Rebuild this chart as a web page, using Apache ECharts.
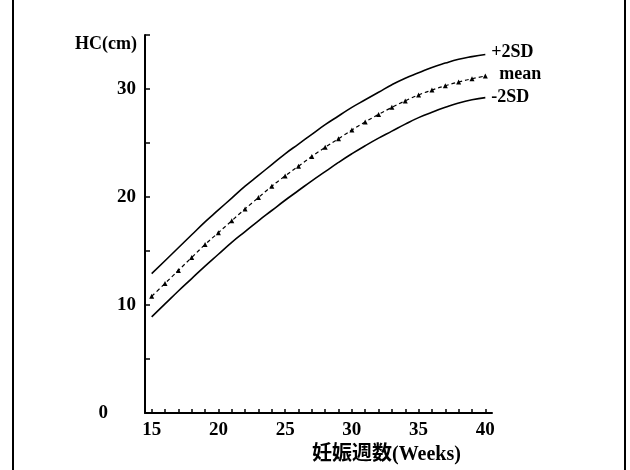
<!DOCTYPE html>
<html>
<head>
<meta charset="utf-8">
<script src="https://cdn.jsdelivr.net/npm/echarts@6/dist/echarts.min.js"></script>
<style>
  html, body { margin: 0; padding: 0; background: #fff; }
  #chart { width: 630px; height: 470px; }
</style>
</head>
<body>
<div id="chart"></div>
<script>
// 妊娠周数
const weeks = [15, 16, 17, 18, 19, 20, 21, 22, 23, 24, 25, 26, 27, 28, 29, 30, 31, 32, 33, 34, 35, 36, 37, 38, 39, 40];
// 头围 HC (cm)
const plus2SD = [12.9, 14.1, 15.3, 16.5, 17.7, 18.8, 19.9, 21.0, 22.0, 23.0, 24.0, 24.9, 25.8, 26.7, 27.5, 28.3, 29.0, 29.7, 30.4, 31.0, 31.5, 32.0, 32.4, 32.75, 33.0, 33.2];
const mean = [10.8, 12.0, 13.2, 14.4, 15.6, 16.7, 17.8, 18.9, 19.95, 21.0, 21.95, 22.85, 23.75, 24.6, 25.4, 26.2, 26.95, 27.65, 28.3, 28.9, 29.45, 29.9, 30.3, 30.65, 30.95, 31.2];
const minus2SD = [8.9, 10.1, 11.3, 12.45, 13.6, 14.7, 15.8, 16.8, 17.8, 18.75, 19.7, 20.6, 21.5, 22.35, 23.2, 24.0, 24.75, 25.45, 26.1, 26.75, 27.35, 27.85, 28.3, 28.7, 29.0, 29.2];
// 坐标轴刻度
const xLabelValues = [15, 20, 25, 30, 35, 40];
const yLabelValues = [0, 10, 20, 30];

const serif = "'Liberation Serif', 'Noto Sans CJK JP', serif";

const toPairs = vals => weeks.map((w, i) => [w, vals[i]]);

const chart = echarts.init(document.getElementById('chart'), null, { renderer: 'canvas' });

const endLabel = (text, offset) => ({
  show: true,
  formatter: text,
  distance: 6,
  offset: offset,
  color: '#000',
  fontFamily: serif,
  fontWeight: 'bold',
  fontSize: 18
});

const option = {
  backgroundColor: '#fff',
  animation: false,
  grid: { left: 145, right: 138, top: 35, bottom: 57, containLabel: false },
  xAxis: {
    type: 'value',
    min: 14.5,
    max: 40.5,
    name: '妊娠週数(Weeks)',
    nameLocation: 'middle',
    nameGap: 30,
    nameTextStyle: {
      color: '#000',
      fontFamily: serif,
      fontWeight: 'bold',
      fontSize: 20,
      padding: [0, 0, 0, 136]
    },
    axisLine: { show: true, onZero: false, lineStyle: { color: '#000', width: 2 } },
    axisTick: { show: true, inside: true, length: 4, customValues: weeks, lineStyle: { color: '#000', width: 1.5 } },
    axisLabel: {
      customValues: xLabelValues,
      color: '#000',
      fontFamily: serif,
      fontWeight: 'bold',
      fontSize: 19,
      margin: 8
    },
    splitLine: { show: false }
  },
  yAxis: {
    type: 'value',
    min: 0,
    max: 35,
    interval: 5,
    name: 'HC(cm)',
    nameLocation: 'end',
    nameGap: -9,
    nameTextStyle: {
      color: '#000',
      fontFamily: serif,
      fontWeight: 'bold',
      fontSize: 18,
      align: 'right',
      verticalAlign: 'middle',
      padding: [0, 8, 0, 0]
    },
    axisLine: { show: true, lineStyle: { color: '#000', width: 2 } },
    axisTick: { show: true, inside: true, length: 5, lineStyle: { color: '#000', width: 1.5 } },
    axisLabel: {
      color: '#000',
      fontFamily: serif,
      fontWeight: 'bold',
      fontSize: 19,
      margin: 9,
      formatter: v => {
        if (!yLabelValues.includes(v)) return '';
        return v === 0 ? '{z|0}' : String(v);
      },
      rich: {
        z: { fontFamily: serif, fontWeight: 'bold', fontSize: 19, color: '#000', padding: [0, 28, 0, 0] }
      }
    },
    splitLine: { show: false }
  },
  series: [
    {
      name: '+2SD',
      type: 'line',
      data: toPairs(plus2SD),
      smooth: true,
      showSymbol: false,
      lineStyle: { color: '#000', width: 1.6 },
      endLabel: endLabel('+2SD', [0, -2])
    },
    {
      name: 'mean',
      type: 'line',
      data: toPairs(mean),
      smooth: true,
      symbol: 'triangle',
      symbolSize: 5,
      itemStyle: { color: '#000' },
      lineStyle: { color: '#000', width: 1.2, type: [4, 3] },
      endLabel: endLabel('mean', [8, -2])
    },
    {
      name: '-2SD',
      type: 'line',
      data: toPairs(minus2SD),
      smooth: true,
      showSymbol: false,
      lineStyle: { color: '#000', width: 1.6 },
      endLabel: endLabel('-2SD', [0, 0])
    }
  ],
  graphic: [
    {
      type: 'rect',
      silent: true,
      shape: { x: 13, y: -5, width: 612, height: 490 },
      style: { fill: 'none', stroke: '#000', lineWidth: 2 }
    }
  ]
};

chart.setOption(option);
</script>
</body>
</html>
